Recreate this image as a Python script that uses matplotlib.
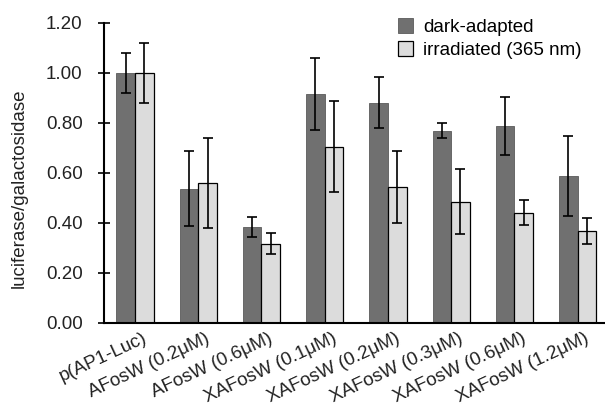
import matplotlib
matplotlib.use("Agg")
import matplotlib.pyplot as plt
import matplotlib.transforms as mtransforms
import numpy as np

categories = ["p(AP1-Luc)", "AFosW (0.2μM)", "AFosW (0.6μM)", "XAFosW (0.1μM)",
              "XAFosW (0.2μM)", "XAFosW (0.3μM)", "XAFosW (0.6μM)", "XAFosW (1.2μM)"]
dark = [1.00, 0.536, 0.382, 0.916, 0.880, 0.769, 0.787, 0.588]
dark_err = [0.080, 0.150, 0.040, 0.145, 0.102, 0.030, 0.115, 0.160]
light = [1.00, 0.559, 0.317, 0.704, 0.544, 0.484, 0.440, 0.368]
light_err = [0.120, 0.180, 0.042, 0.182, 0.145, 0.130, 0.050, 0.052]
series_names = ["dark-adapted", "irradiated (365 nm)"]
yticks = [0.0, 0.2, 0.4, 0.6, 0.8, 1.0, 1.2]

plt.rcParams['font.family'] = ['Liberation Sans', 'DejaVu Sans']

fig = plt.figure(figsize=(6.05, 4.15), dpi=100)
ax = fig.add_axes([0.172, 0.222, 0.835, 0.7226])

x = np.arange(len(categories))
w = 0.295
ekw = dict(elinewidth=1.2, capthick=1.2, ecolor='black')
ax.bar(x - w/2, dark, w, yerr=dark_err, color='#707070', edgecolor='#5a5a5a',
       linewidth=0.6, capsize=3.3, error_kw=ekw, label=series_names[0])
ax.bar(x + w/2, light, w, yerr=light_err, color='#dcdcdc', edgecolor='black',
       linewidth=0.9, capsize=3.3, error_kw=ekw, label=series_names[1])

ax.set_xlim(-0.49, 7.5)
ax.set_ylim(0, 1.2)
ax.set_yticks(yticks)
ax.set_yticklabels([f"{v:.2f}" for v in yticks], fontsize=13.5, color='#222222')
ax.tick_params(axis='y', direction='inout', length=9, width=1.2, pad=11)
ax.set_xticks(x)
ax.set_xticklabels(categories, rotation=25, ha='right', rotation_mode='anchor',
                   fontsize=13.5, color='#222222')
ax.tick_params(axis='x', length=0, pad=5)
offset = mtransforms.ScaledTranslation(0.07, 0.0, fig.dpi_scale_trans)
for lab in ax.get_xticklabels():
    lab.set_transform(lab.get_transform() + offset)

for s in ['top', 'right']:
    ax.spines[s].set_visible(False)
ax.spines['left'].set_linewidth(1.5)
ax.spines['bottom'].set_linewidth(1.5)

ax.set_ylabel("luciferase/galactosidase", fontsize=13.5, color='#222222')
ax.yaxis.set_label_coords(-0.152, 0.45)

ax.legend(loc='upper left', bbox_to_anchor=(0.555, 1.06), frameon=False, fontsize=13.5,
          handlelength=0.85, handleheight=0.85, handletextpad=0.5, labelspacing=0.25,
          borderpad=0.2)

fig.savefig("out.png", dpi=100)
